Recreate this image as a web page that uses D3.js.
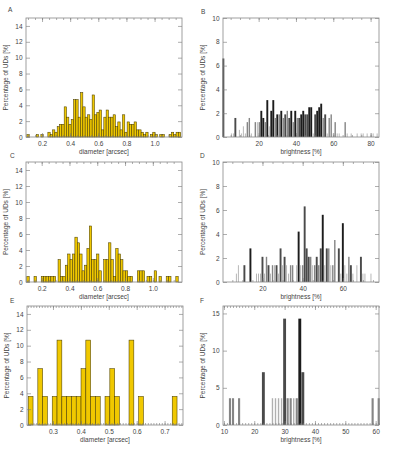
<!DOCTYPE html>
<html>
<head>
<meta charset="utf-8">
<script src="https://cdn.jsdelivr.net/npm/d3@7"></script>
<style>
  body { margin: 0; background: #fff; }
  text { font-family: "Liberation Sans", Arial, sans-serif; fill: #444; }
  .tick line { stroke: #777; stroke-width: 0.6; }
</style>
</head>
<body>
<svg id="chart" width="394" height="473"></svg>
<script>
// A: diameter histogram, big sample (bin centres start at aStart, step aWidth)
var aStart = 0.1006, aWidth = 0.01657;
var aPct = [0.3,0,0,0,0.3,0,0.3,0,0,0.6, 0.3,0.9,0.6,1.3,1.6,1.6,3.8,2.5,1.6,2.2,
            4.7,4.7,2.5,5.6,3.8,2.5,2.8,2.2,5.3,2.8, 3.1,3.4,0.9,2.5,3.4,2.5,2.5,2.8,1.3,1.9,
            0.9,2.8,0.6,1.9,1.6,1.6,1.9,0.9,0.9,0.6, 0.3,0.6,0,0.3,0.6,0.3,0,0.3,0.3,0,
            0,0.3,0.6,0.3,0.6,0.6];

// B: brightness histogram, same sample; tone = grey level of each bar
var bStart = 1.1, bWidth = 1.07;
var bPct = [6.6,0,0,0,0.3,0.3,1.6,0,0.6,0.3, 0.9,0.3,1.25,1.6,0.3,0,1.25,1.25,1.25,2.2,
            1.6,1.25,3.1,0.9,2.2,3.1,1.6,1.9,1.9,2.2, 1.6,1.9,2.2,1.6,2.2,1.25,2.2,1.6,1.6,1.9,
            2.2,1.9,1.9,2.5,2.5,0.3,1.9,2.2,2.5,2.8, 1.6,1.9,0.3,1.6,1.9,0.3,1.25,0.3,0.3,0,
            0,1.25,0.3,0,0.3,0,0,0.3,0,0.3, 0.3,0,0.3,0,0.3,0.3,0,0.3];
var bTone = ["d","","","","l","l","d","","l","l", "l","l","m","m","l","","m","l","m","k",
             "k","m","k","l","k","k","m","k","m","k", "m","d","m","d","k","m","k","m","d","k",
             "k","d","d","k","k","l","d","k","k","k", "m","d","l","m","m","l","m","l","l","",
             "","m","l","","l","","","l","","l", "l","","l","","l","l","","l"];

// C: diameter histogram, second sample
var cStart = 0.1015, cWidth = 0.0173;
var cPct = [0.7,0,0,0.7,0,0,0.7,0.7,0.7,0.7, 0.7,0.7,0,2.8,0.7,0.7,2.1,3.5,2.8,3.5,
            5.6,4.9,3.5,1.4,2.1,4.2,7.0,2.8,2.8,3.5, 1.4,0,2.8,2.8,4.9,2.8,0.7,4.2,3.5,2.8,
            1.4,1.4,0.7,0.7,0,0,1.4,1.4,1.4,0, 0.7,0.7,0,1.4,0,0.7,0,0,0.7,0.7,
            0,0,0.7];

// D: brightness histogram, second sample (1 % bins starting at 1 %)
var dStart = 1, dWidth = 1;
var dPct = [0,0,0,0,0,0,0.7,1.4,0,0, 1.4,0,0,2.8,0,0,0.7,0.7,0.7,2.1,
            0.7,2.1,1.4,0.7,1.4,1.4,1.4,0.7,2.8,1.4, 2.1,1.4,0.7,1.4,1.4,0,1.4,4.2,1.4,1.4,
            6.3,2.8,2.1,2.1,1.4,1.4,2.1,1.4,2.8,5.6, 1.4,2.8,2.8,1.4,1.4,3.5,0,2.8,0.7,4.9,
            1.4,0.7,2.1,1.4,0.7,0,1.4,0,2.1,0.7, 0.7,0,0,0.7];
var dTone = ["","","","","","","l","l","","", "d","","","k","","","l","l","l","d",
             "l","m","d","l","m","l","d","l","d","l", "d","l","l","m","m","","l","k","l","m",
             "d","d","d","m","l","m","d","m","d","k", "l","d","m","l","m","m","","d","l","k",
             "l","l","m","d","l","","l","","d","l", "l","","","l"];

// E: diameter histogram, small sample
var eStart = 0.22, eWidth = 0.0172;
var ePct = [3.6,0,7.1,3.6,0,3.6,10.7,3.6,3.6,3.6, 3.6,7.1,10.7,3.6,3.6,0,3.6,7.1,3.6,0,
            0,10.7,0,3.6,0,0,0,0,0,0, 3.6];

// F: brightness histogram, small sample (1 % bins starting at 12 %)
var fStart = 12, fWidth = 1;
var fPct = [3.6,3.6,0,3.6,0,0,0,0,0,0, 0,7.1,0,0,3.6,3.6,3.6,3.6,14.3,3.6,
            3.6,3.6,3.6,14.3,7.1,0,0,0,0,0, 0,0,0,0,0,0,0,0,0,0,
            0,0,0,0,0,0,0,3.6,0,3.6];
var fTone = ["m","m","","m","","","","","","", "","d","","","l","l","l","l","d","m",
             "m","l","m","k","d","","","","","", "","","","","","","","","","",
             "","","","","","","","m","","m"];

var toneColor = { l: "#b0b0b0", m: "#858585", d: "#4a4a4a", k: "#1c1c1c" };
// share of the bin a grey bar fills
var toneFill = { l: 0.45, m: 0.7, d: 0.95, k: 0.95 };
var fs = 6.5;

var svg = d3.select("#chart");

function panel(o) {
    var g = svg.append("g");
    var x = d3.scaleLinear().domain(o.xDomain).range([o.left, o.right]);
    var y = d3.scaleLinear().domain(o.yDomain).range([o.bottom, o.top]);

    var bars = o.pct.map(function(p, i) {
        var c = o.start + i * o.width;
        var t = o.tone ? o.tone[i] : null;
        var half = o.width / 2 * (t ? toneFill[t] : 1);
        return { x0: c - half, x1: c + half, p: p, tone: t };
    }).filter(function(d) { return d.p > 0; });

    g.selectAll("rect.bar").data(bars).join("rect")
        .attr("class", "bar")
        .attr("x", function(d) { return x(d.x0); })
        .attr("width", function(d) { return x(d.x1) - x(d.x0); })
        .attr("y", function(d) { return y(d.p); })
        .attr("height", function(d) { return y(0) - y(d.p); })
        .attr("fill", function(d) { return d.tone ? toneColor[d.tone] : "#f0c800"; })
        .attr("stroke", o.tone ? "none" : "#4a3e00")
        .attr("stroke-width", 0.55);

    // minor ticks top and bottom
    g.append("g").attr("transform", "translate(0," + o.bottom + ")")
        .call(d3.axisBottom(x).tickValues(o.xMinor).tickSize(-2).tickFormat(""));
    g.append("g").attr("transform", "translate(0," + o.top + ")")
        .call(d3.axisTop(x).tickValues(o.xMinor).tickSize(-2).tickFormat(""));
    // major ticks
    g.append("g").attr("transform", "translate(0," + o.bottom + ")")
        .call(d3.axisBottom(x).tickValues(o.xTicks).tickSize(-4).tickPadding(4.4).tickFormat(o.xFmt));
    g.append("g").attr("transform", "translate(0," + o.top + ")")
        .call(d3.axisTop(x).tickValues(o.xTicks).tickSize(-4).tickFormat(""));
    g.append("g").attr("transform", "translate(" + o.left + ",0)")
        .call(d3.axisLeft(y).tickValues(o.yTicks).tickSize(-4).tickPadding(3.5).tickFormat(d3.format("d")));
    g.append("g").attr("transform", "translate(" + o.right + ",0)")
        .call(d3.axisRight(y).tickValues(o.yTicks).tickSize(-4).tickFormat(""));

    g.selectAll(".domain").remove();
    g.selectAll(".tick text").attr("font-size", fs).style("fill", "#444");

    g.append("rect")
        .attr("x", o.left).attr("y", o.top)
        .attr("width", o.right - o.left).attr("height", o.bottom - o.top)
        .attr("fill", "none").attr("stroke", "#888").attr("stroke-width", 0.8);

    g.append("text")
        .attr("x", (o.left + o.right) / 2).attr("y", o.bottom + 17)
        .attr("text-anchor", "middle").attr("font-size", fs)
        .text(o.xTitle);
    g.append("text")
        .attr("transform", "translate(" + (o.left - 18) + "," + ((o.top + o.bottom) / 2) + ") rotate(-90)")
        .attr("text-anchor", "middle").attr("font-size", fs)
        .text("Percentage of UDs [%]");
    g.append("text")
        .attr("x", o.letterX).attr("y", o.letterY)
        .attr("font-size", fs)
        .text(o.letter);
}

var fmt1 = d3.format(".1f");
var fmt0 = d3.format("d");

panel({ letter: "A", letterX: 8, letterY: 12,
    left: 26, right: 182, top: 18, bottom: 137,
    xDomain: [0.086, 1.195], yDomain: [0, 15],
    xTicks: [0.2, 0.4, 0.6, 0.8, 1.0], xMinor: d3.range(0.1, 1.19, 0.05), xFmt: fmt1,
    yTicks: d3.range(0, 15, 2),
    start: aStart, width: aWidth, pct: aPct, xTitle: "diameter [arcsec]" });

panel({ letter: "B", letterX: 201, letterY: 14,
    left: 223, right: 379, top: 18, bottom: 137,
    xDomain: [0.9, 84.5], yDomain: [0, 10],
    xTicks: [20, 40, 60, 80], xMinor: d3.range(5, 85, 5), xFmt: fmt0,
    yTicks: d3.range(0, 11, 2),
    start: bStart, width: bWidth, pct: bPct, tone: bTone, xTitle: "brightness [%]" });

panel({ letter: "C", letterX: 10, letterY: 158,
    left: 26, right: 182, top: 162, bottom: 282,
    xDomain: [0.087, 1.21], yDomain: [0, 15],
    xTicks: [0.2, 0.4, 0.6, 0.8, 1.0], xMinor: d3.range(0.1, 1.2, 0.05), xFmt: fmt1,
    yTicks: d3.range(0, 15, 2),
    start: cStart, width: cWidth, pct: cPct, xTitle: "diameter [arcsec]" });

panel({ letter: "D", letterX: 200, letterY: 158,
    left: 223, right: 379, top: 162, bottom: 282,
    xDomain: [0.35, 78], yDomain: [0, 10],
    xTicks: [20, 40, 60], xMinor: d3.range(5, 78, 5), xFmt: fmt0,
    yTicks: d3.range(0, 11, 2),
    start: dStart, width: dWidth, pct: dPct, tone: dTone, xTitle: "brightness [%]" });

panel({ letter: "E", letterX: 10, letterY: 303,
    left: 27, right: 183, top: 306, bottom: 425,
    xDomain: [0.207, 0.766], yDomain: [0, 15],
    xTicks: [0.3, 0.4, 0.5, 0.6, 0.7], xMinor: d3.range(0.21, 0.765, 0.01), xFmt: fmt1,
    yTicks: d3.range(0, 15, 2),
    start: eStart, width: eWidth, pct: ePct, xTitle: "diameter [arcsec]" });

panel({ letter: "F", letterX: 200, letterY: 303,
    left: 223, right: 379, top: 306, bottom: 425,
    xDomain: [9.7, 61.1], yDomain: [0, 16],
    xTicks: [10, 20, 30, 40, 50, 60], xMinor: d3.range(10, 62, 1), xFmt: fmt0,
    yTicks: [0, 5, 10, 15],
    start: fStart, width: fWidth, pct: fPct, tone: fTone, xTitle: "brightness [%]" });
</script>
</body>
</html>
